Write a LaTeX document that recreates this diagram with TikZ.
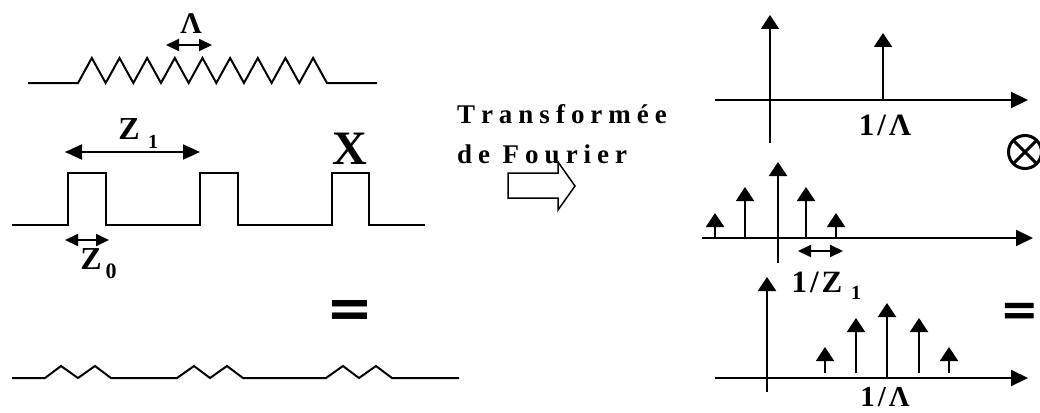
\documentclass[tikz,border=0pt]{standalone}
\usepackage{fontspec}
\setmainfont{Liberation Serif}
\newfontfamily\dejavu{DejaVu Sans}
\usetikzlibrary{arrows.meta}
\newcommand\lsp{\kern6pt}
\newcommand\fsz[1]{\fontsize{#1}{#1}\selectfont}
\begin{document}
\begin{tikzpicture}[x=1pt,y=-1pt, line width=2pt, line join=miter,
  spike/.style={-{Triangle[width=18pt,length=14pt]}},
  axisarr/.style={-{Triangle[width=16pt,length=17pt]}},
  dimsmall/.style={{Triangle[width=12pt,length=13pt]}-{Triangle[width=12pt,length=13pt]}},
  dimbig/.style={{Triangle[width=15pt,length=17pt]}-{Triangle[width=15pt,length=17pt]}},
  lbl/.style={font=\bfseries\fsz{32}, inner sep=0pt},
  sub/.style={font=\bfseries\fsz{20}, inner sep=0pt},
  eqsign/.style={font=\dejavu\bfseries\fsz{56}, inner sep=0pt},
]
\useasboundingbox (0,0) rectangle (1040,412);

% ---------- left: grating ----------
\draw (28,83) -- (78,83) \foreach \i in {1,...,9}{ -- ++(13.83,-25) -- ++(13.83,25)} -- (377,83);
\coordinate (lamA) at (166,45);
\coordinate (lamB) at (212,45);
\draw[dimsmall] (lamA) -- (lamB);
\node[lbl,font=\bfseries\fsz{30}] (lam) at (191,24) {Λ};

% ---------- left: pulses ----------
\draw (12,225) -- (68,225) -- (68,173) -- (106,173) -- (106,225) -- (200,225) -- (200,173) -- (238,173) -- (238,225)
      -- (332,225) -- (332,173) -- (369,173) -- (369,225) -- (425,225);
\coordinate (zoA) at (65,152);
\coordinate (zoB) at (200,152);
\draw[dimbig] (zoA) -- (zoB);
\node[lbl] (z1) at (129,129) {Z};
\node[sub] (z1s) at (153,142) {1};
\coordinate (zzA) at (65,240);
\coordinate (zzB) at (109,240);
\draw[dimsmall] (zzA) -- (zzB);
\node[lbl] (z0) at (91,259) {Z};
\node[sub,font=\bfseries\fsz{22}] (z0s) at (111,271) {0};
\node[lbl,font=\bfseries\fsz{48}] (times) at (350,149) {X};

% ---------- left: product ----------
\node[eqsign] (eqL) at (350,314) {=};
\draw (12,378) -- (45,378) -- (61,366) -- (78,378) -- (95,366) -- (111,378) -- (177,378) -- (194,366) -- (210,378)
      -- (227,366) -- (243,378) -- (326,378) -- (343,366) -- (359,378) -- (376,366) -- (392,378) -- (459,378);

% ---------- middle: Fourier ----------
\node[font=\bfseries\fsz{27}, inner sep=0pt, anchor=base west] (tf1) at (456,123)
  {T\lsp r\lsp a\lsp n\lsp s\lsp f\lsp o\lsp r\lsp m\lsp é\lsp e};
\node[font=\bfseries\fsz{27}, inner sep=0pt, anchor=base west] (tf2) at (456,163)
  {d\lsp e\lsp\ F\lsp o\lsp u\lsp r\lsp i\lsp e\lsp r};
\draw[line width=1.5pt] (508,173) -- (558,173) -- (558,162) -- (575,186) -- (558,210) -- (558,198) -- (508,198) -- cycle;

% ---------- right: top spectrum ----------
\draw[axisarr] (715,100) -- (1028,100);
\draw[spike] (770,143) -- (770,15);
\draw[spike] (883,100) -- (883,33);
\node[lbl,font=\bfseries\fsz{31}] (l1) at (885,125) {1\kern3pt/\kern3ptΛ};
\draw[line width=3pt] (1025,152) circle (16.5);
\draw[line width=3pt] (1025,152) ++(45:16.5) -- ++(225:33);
\draw[line width=3pt] (1025,152) ++(135:16.5) -- ++(315:33);

% ---------- right: middle spectrum ----------
\draw[axisarr] (702,238) -- (1033,238);
\draw[spike] (778,263) -- (778,162);
\draw[spike] (715,238) -- (715,213);
\draw[spike] (745,238) -- (745,187);
\draw[spike] (806,238) -- (806,187);
\draw[spike] (836,238) -- (836,213);
\coordinate (fzA) at (798,251);
\coordinate (fzB) at (843,251);
\draw[dimsmall] (fzA) -- (fzB);
\node[lbl,font=\bfseries\fsz{31}] (l2) at (817,282) {1\kern3pt/\kern3ptZ};
\node[sub] (l2s) at (856,293) {1};

% ---------- right: bottom spectrum ----------
\draw[axisarr] (715,378) -- (1028,378);
\draw[spike] (767,392) -- (767,277);
\draw[spike] (825,373) -- (825,347);
\draw[spike] (856,373) -- (856,318);
\draw[spike] (887,378) -- (887,303);
\draw[spike] (919,373) -- (919,318);
\draw[spike] (949,373) -- (949,347);
\node[lbl,font=\bfseries\fsz{29}] (l3) at (885,397) {1\kern3pt/\kern3ptΛ};
\node[eqsign,font=\dejavu\bfseries\fsz{46}] (eqR) at (1020,314) {=};
\end{tikzpicture}
\end{document}
